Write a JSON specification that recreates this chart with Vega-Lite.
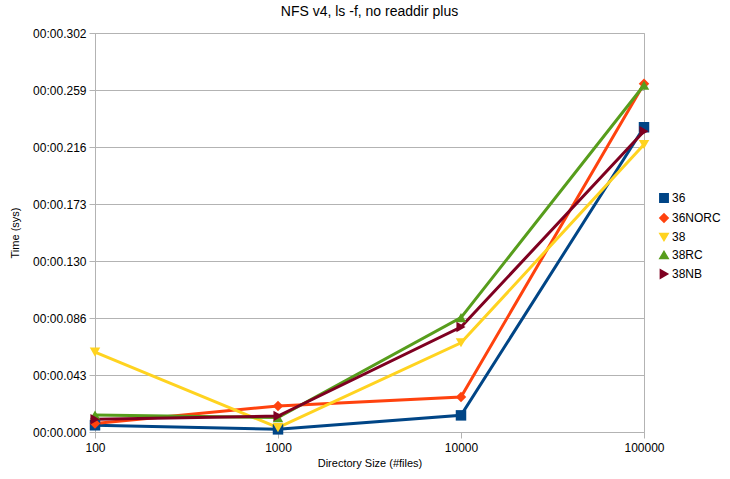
{
  "$schema": "https://vega.github.io/schema/vega-lite/v6.json",
  "width": 549,
  "height": 399,
  "autosize": {"type": "none"},
  "padding": {"left": 95, "top": 33, "right": 86, "bottom": 47},
  "background": "white",
  "title": {"text": "NFS v4, ls -f, no readdir plus", "fontSize": 14, "font": "Liberation Sans", "fontWeight": "normal", "color": "#000000", "anchor": "middle", "offset": 8},
  "config": {
    "view": {"stroke": "#b3b3b3", "strokeWidth": 1},
    "font": "Liberation Sans"
  },
  "data": {"values": [
    {"size": "100", "series": "36", "time": 0.0051},
    {"size": "1000", "series": "36", "time": 0.0020},
    {"size": "10000", "series": "36", "time": 0.0126},
    {"size": "100000", "series": "36", "time": 0.2308},
    {"size": "100", "series": "36NORC", "time": 0.0064},
    {"size": "1000", "series": "36NORC", "time": 0.0197},
    {"size": "10000", "series": "36NORC", "time": 0.0265},
    {"size": "100000", "series": "36NORC", "time": 0.2638},
    {"size": "100", "series": "38", "time": 0.0605},
    {"size": "1000", "series": "38", "time": 0.0033},
    {"size": "10000", "series": "38", "time": 0.0676},
    {"size": "100000", "series": "38", "time": 0.2177},
    {"size": "100", "series": "38RC", "time": 0.0129},
    {"size": "1000", "series": "38RC", "time": 0.0109},
    {"size": "10000", "series": "38RC", "time": 0.0866},
    {"size": "100000", "series": "38RC", "time": 0.2626},
    {"size": "100", "series": "38NB", "time": 0.0096},
    {"size": "1000", "series": "38NB", "time": 0.0121},
    {"size": "10000", "series": "38NB", "time": 0.0795},
    {"size": "100000", "series": "38NB", "time": 0.2278}
  ]},
  "encoding": {
    "x": {
      "field": "size", "type": "ordinal", "sort": ["100", "1000", "10000", "100000"],
      "scale": {"type": "point", "padding": 0},
      "axis": {"title": "Directory Size (#files)", "labelAngle": 0, "grid": false, "domain": false,
        "tickColor": "#b3b3b3", "tickSize": 6, "labelFontSize": 12, "labelColor": "#000000",
        "titleFontSize": 11, "titleFontWeight": "normal", "titleColor": "#000000", "labelPadding": 4, "titlePadding": 4}
    },
    "y": {
      "field": "time", "type": "quantitative",
      "scale": {"domain": [0, 0.3022], "nice": false, "zero": true},
      "axis": {"title": "Time (sys)", "values": [0, 0.04317, 0.08634, 0.12951, 0.17268, 0.21585, 0.25902, 0.3022],
        "labelExpr": "'00:00.' + slice(format(datum.value, '.3f'), 2)",
        "gridColor": "#b3b3b3", "domainColor": "#b3b3b3", "tickColor": "#b3b3b3", "tickSize": 6,
        "labelFontSize": 12, "labelColor": "#000000", "labelPadding": 3,
        "titleFontSize": 11, "titleFontWeight": "normal", "titleColor": "#000000", "titlePadding": 12}
    },
    "color": {
      "field": "series", "type": "nominal", "sort": ["36", "36NORC", "38", "38RC", "38NB"],
      "scale": {"domain": ["36", "36NORC", "38", "38RC", "38NB"], "range": ["#004586", "#ff420e", "#ffd320", "#579d1c", "#7e0021"]},
      "legend": {"title": null, "orient": "none", "legendX": 563, "legendY": 159, "labelFontSize": 12, "labelColor": "#000000", "symbolSize": 70, "rowPadding": 4, "labelOffset": 2}
    },
    "shape": {
      "field": "series", "type": "nominal", "sort": ["36", "36NORC", "38", "38RC", "38NB"],
      "scale": {"domain": ["36", "36NORC", "38", "38RC", "38NB"], "range": ["square", "diamond", "triangle-down", "triangle-up", "triangle-right"]},
      "legend": {"title": null, "orient": "none", "legendX": 563, "legendY": 159, "labelFontSize": 12, "labelColor": "#000000", "symbolSize": 70, "rowPadding": 4, "labelOffset": 2}
    }
  },
  "layer": [
    {"mark": {"type": "line", "strokeWidth": 3}, "encoding": {"shape": null}},
    {"mark": {"type": "point", "filled": true, "size": 110, "opacity": 1}}
  ]
}
